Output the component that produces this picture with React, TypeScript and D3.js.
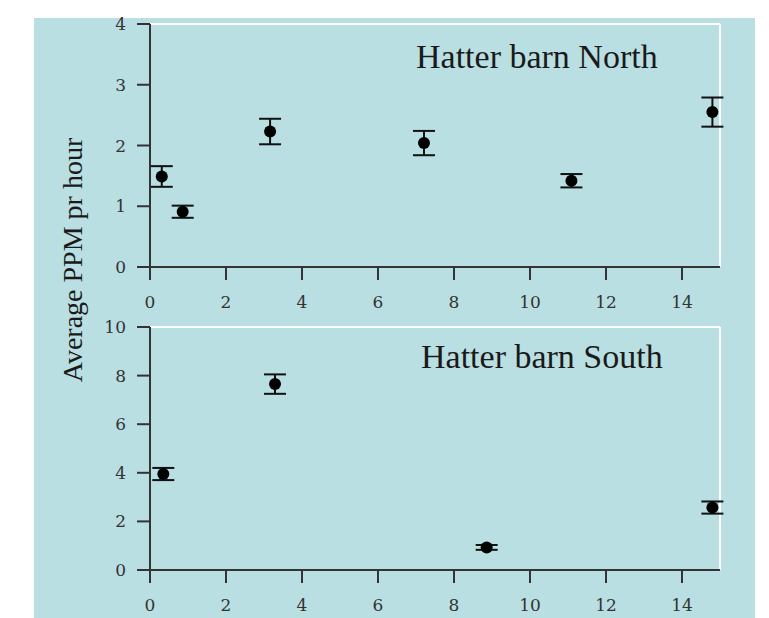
import * as d3 from 'd3'

// hours since start (x), average ppm (y), +/- error
const northX = [0.31, 0.86, 3.16, 7.21, 11.09, 14.8]
const northY = [1.49, 0.91, 2.23, 2.04, 1.42, 2.55]
const northErr = [0.17, 0.1, 0.21, 0.2, 0.11, 0.24]

const southX = [0.35, 3.29, 8.86, 14.8]
const southY = [3.95, 7.65, 0.93, 2.57]
const southErr = [0.25, 0.4, 0.1, 0.25]

const xTicks = [0, 2, 4, 6, 8, 10, 12, 14]
const northYTicks = [0, 1, 2, 3, 4]
const southYTicks = [0, 2, 4, 6, 8, 10]

const width = 769
const height = 618
const bg = '#b9dfe2'
const axisColor = '#333'
const tickFont = '"DejaVu Serif", serif'
const titleFont = '"Liberation Serif", serif'

function Panel({
  title,
  xs,
  ys,
  errs,
  yMax,
  yTicks,
  top,
  bottom,
  titleX,
  titleY,
}: {
  title: string
  xs: number[]
  ys: number[]
  errs: number[]
  yMax: number
  yTicks: number[]
  top: number
  bottom: number
  titleX: number
  titleY: number
}) {
  const x = d3.scaleLinear().domain([0, 15]).range([150, 720])
  const y = d3.scaleLinear().domain([0, yMax]).range([bottom, top])
  const tickLen = 13
  const cap = 11

  return (
    <g>
      {/* white frame top and right */}
      <line x1={x(0)} x2={x(15)} y1={y(yMax)} y2={y(yMax)} stroke="#fff" strokeWidth="2" />
      <line x1={x(15)} x2={x(15)} y1={y(yMax)} y2={y(0)} stroke="#fff" strokeWidth="2" />

      {/* axes */}
      <line x1={x(0)} x2={x(0)} y1={y(yMax)} y2={y(0)} stroke={axisColor} strokeWidth="2" />
      <line x1={x(0)} x2={x(15)} y1={y(0)} y2={y(0)} stroke={axisColor} strokeWidth="2" />

      {yTicks.map((tick) => (
        <g key={tick} transform={`translate(0,${y(tick)})`}>
          <line x1={x(0) - tickLen} x2={x(0)} stroke={axisColor} strokeWidth="2" />
          <text
            x={126}
            y={6}
            textAnchor="end"
            fontFamily={tickFont}
            fontSize="17"
            fill="#333"
          >
            {tick}
          </text>
        </g>
      ))}

      {xTicks.map((tick) => (
        <g key={tick} transform={`translate(${x(tick)},0)`}>
          <line y1={y(0)} y2={y(0) + tickLen} stroke={axisColor} strokeWidth="2" />
          <text
            y={y(0) + 41}
            textAnchor="middle"
            fontFamily={tickFont}
            fontSize="17"
            fill="#333"
          >
            {tick}
          </text>
        </g>
      ))}

      {xs.map((xv, i) => (
        <g key={xv}>
          <line x1={x(xv)} x2={x(xv)} y1={y(ys[i] + errs[i])} y2={y(ys[i] - errs[i])} stroke="#111" strokeWidth="2" />
          <line x1={x(xv) - cap} x2={x(xv) + cap} y1={y(ys[i] + errs[i])} y2={y(ys[i] + errs[i])} stroke="#111" strokeWidth="2" />
          <line x1={x(xv) - cap} x2={x(xv) + cap} y1={y(ys[i] - errs[i])} y2={y(ys[i] - errs[i])} stroke="#111" strokeWidth="2" />
          <circle cx={x(xv)} cy={y(ys[i])} r="6" fill="#000" />
        </g>
      ))}

      <text x={titleX} y={titleY} fontFamily={titleFont} fontSize="34" fill="#1a1a1a">
        {title}
      </text>
    </g>
  )
}

export default function App() {
  return (
    <svg
      width={width}
      height={height}
      viewBox={`0 0 ${width} ${height}`}
      style={{ position: 'absolute', left: 0, top: 0, background: '#fff' }}
    >
      <rect x={34} y={18} width={721} height={600} fill={bg} />

      <Panel
        title="Hatter barn North"
        xs={northX}
        ys={northY}
        errs={northErr}
        yMax={4}
        yTicks={northYTicks}
        top={24}
        bottom={267}
        titleX={416}
        titleY={68}
      />
      <Panel
        title="Hatter barn South"
        xs={southX}
        ys={southY}
        errs={southErr}
        yMax={10}
        yTicks={southYTicks}
        top={327}
        bottom={570}
        titleX={421}
        titleY={368}
      />

      <text
        transform="translate(82,260) rotate(-90)"
        textAnchor="middle"
        fontFamily={titleFont}
        fontSize="28"
        fill="#1a1a1a"
      >
        Average PPM pr hour
      </text>
    </svg>
  )
}
